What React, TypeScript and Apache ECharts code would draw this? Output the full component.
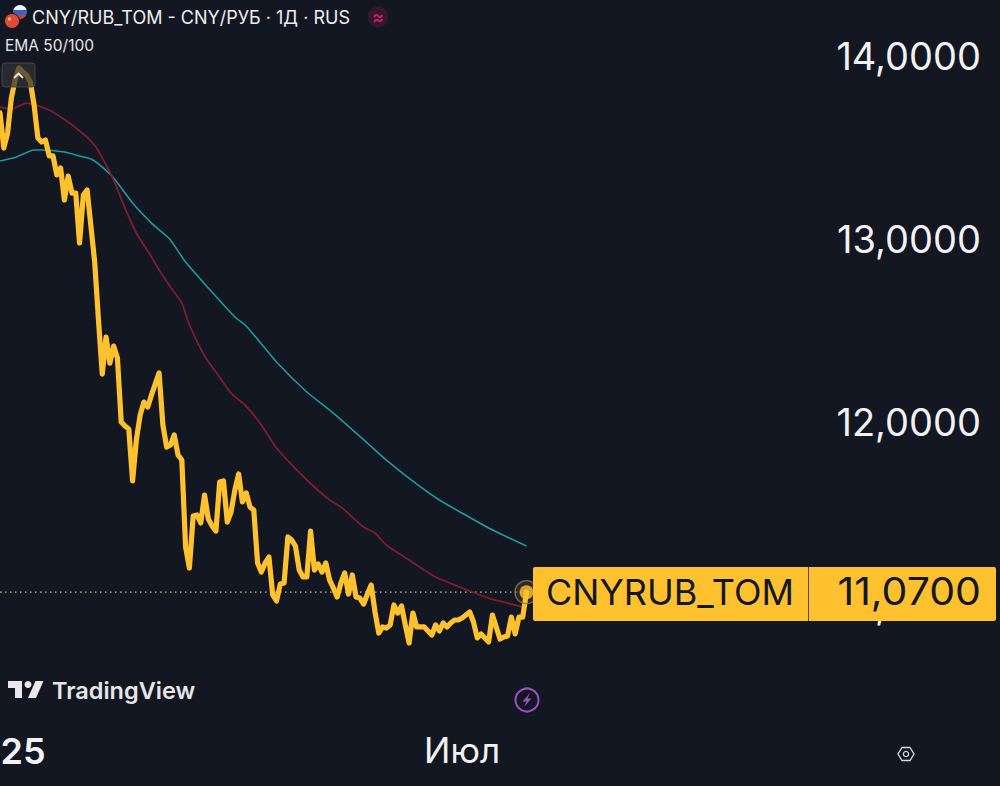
import React, { useEffect, useRef } from "react";
import * as echarts from "echarts";

const closePrices = [
  13.689, 13.497, 13.579, 13.77, 13.869, 13.934, 13.913, 13.896, 13.858, 13.732,
  13.552, 13.53, 13.541, 13.454, 13.454, 13.35, 13.388, 13.213, 13.344, 13.251,
  13.251, 12.978, 13.24, 13.268, 13.071, 12.874, 12.557, 12.262, 12.464, 12.322,
  12.415, 12.35, 12.0, 11.978, 11.962, 11.678, 11.902, 12.038, 12.109, 12.082,
  12.148, 12.208, 12.268, 11.984, 11.863, 11.874, 11.929, 11.82, 11.792, 11.317,
  11.202, 11.486, 11.492, 11.448, 11.601, 11.47, 11.432, 11.404, 11.672, 11.678,
  11.453, 11.508, 11.628, 11.716, 11.563, 11.612, 11.536, 11.519, 11.23, 11.18,
  11.23, 11.262, 11.055, 11.022, 11.115, 11.12, 11.372, 11.355, 11.322, 11.191,
  11.153, 11.153, 11.404, 11.191, 11.224, 11.18, 11.23, 11.137, 11.093, 11.044,
  11.12, 11.175, 11.06, 11.164, 11.044, 11.038, 11.005, 11.06, 11.109, 10.962,
  10.847, 10.88, 10.874, 10.891, 11.0, 10.956, 10.995, 10.891, 10.792, 10.956,
  10.88, 10.88, 10.88, 10.858, 10.836, 10.891, 10.858, 10.902, 10.88, 10.902,
  10.918, 10.918, 10.929, 10.945, 10.962, 10.907, 10.82, 10.842, 10.82, 10.798,
  10.945, 10.88, 10.814, 10.825, 10.831, 10.934, 10.842, 10.934, 10.934, 11.07,
];

const ema50Sessions = [0, 3, 7, 13, 18, 22, 24, 26, 30, 33, 36, 40, 42, 45, 48, 50, 54, 57, 61, 65, 69, 73, 81, 87, 90, 96, 99, 102, 108, 115, 122, 129, 138];
const ema50Values = [13.721, 13.71, 13.743, 13.705, 13.639, 13.574, 13.536, 13.481, 13.322, 13.169, 13.033, 12.902, 12.831, 12.738, 12.65, 12.53, 12.361, 12.273, 12.158, 12.087, 11.984, 11.858, 11.683, 11.574, 11.536, 11.426, 11.393, 11.328, 11.246, 11.153, 11.093, 11.038, 10.989];

const ema100Sessions = [0, 4, 9, 11, 17, 21, 24, 26, 30, 35, 40, 43, 45, 49, 55, 62, 65, 73, 81, 88, 97, 102, 111, 116, 121, 129, 139];
const ema100Values = [13.426, 13.445, 13.486, 13.486, 13.475, 13.454, 13.437, 13.41, 13.333, 13.197, 13.087, 13.033, 12.995, 12.874, 12.732, 12.574, 12.525, 12.328, 12.164, 12.049, 11.885, 11.792, 11.645, 11.574, 11.514, 11.421, 11.322];

const priceTicks = [11, 12, 13, 14];
const timeTicks = [0, 122];
const timeLabels: Record<number, string> = { 0: "2025", 122: "Июл" };
const lastPrice = 11.07;
const lastSession = closePrices.length - 1;

const FONT = "Inter, sans-serif";
const BG = "#131722";
const GOLD = "#FFC22E";

export default function App() {
  const ref = useRef<HTMLDivElement>(null);
  useEffect(() => {
    const chart = echarts.init(ref.current!, undefined, { renderer: "svg" });
    const russia = {
      type: "linear", x: 0, y: 0, x2: 0, y2: 1,
      colorStops: [
        { offset: 0, color: "#f2f2f2" }, { offset: 0.36, color: "#f2f2f2" },
        { offset: 0.36, color: "#3a62c4" }, { offset: 0.68, color: "#3a62c4" },
        { offset: 0.68, color: "#d83a34" }, { offset: 1, color: "#d83a34" },
      ],
    };
    chart.setOption({
      animation: false,
      backgroundColor: BG,
      grid: { left: 0, top: 1.1, width: 1000, height: 713.7, outerBoundsMode: "none", containLabel: false },
      xAxis: {
        type: "value", min: 0, max: 264, splitLine: { show: false },
        axisLine: { show: false }, axisTick: { show: false },
        axisLabel: {
          customValues: timeTicks, margin: 18, fontFamily: FONT, fontSize: 35, color: "#f2f2f2",
          formatter: (v: number) => (v === 0 ? `{b|${timeLabels[0]}}` : timeLabels[v] ?? ""),
          rich: { b: { fontFamily: FONT, fontSize: 36, fontWeight: 600, color: "#f2f2f2" } },
        },
      },
      yAxis: {
        type: "value", position: "right", min: 10.4, max: 14.3, splitLine: { show: false },
        axisLine: { show: false }, axisTick: { show: false },
        axisLabel: {
          customValues: priceTicks, inside: true, margin: 19, fontFamily: FONT, fontSize: 38, color: "#f2f2f2",
          formatter: (v: number) => v.toFixed(4).replace(".", ","),
        },
      },
      series: [
        {
          name: "Last", type: "line", symbol: "none", silent: true, z: 1,
          data: [[0, lastPrice], [lastSession, lastPrice]],
          lineStyle: { color: "#c8c09a", width: 1.3, type: [1.5, 3.5] },
        },
        {
          name: "EMA 100", type: "line", symbol: "none", smooth: 0.2, z: 2,
          data: ema100Sessions.map((s, i) => [s, ema100Values[i]]),
          lineStyle: { color: "#1f9a9c", width: 1.6 },
        },
        {
          name: "EMA 50", type: "line", symbol: "none", smooth: 0.2, z: 2,
          data: ema50Sessions.map((s, i) => [s, ema50Values[i]]),
          lineStyle: { color: "#7f1d2d", width: 1.8 },
        },
        {
          name: "CNY/RUB_TOM", type: "line", symbol: "none", z: 3,
          data: closePrices.map((v, i) => [i, v]),
          lineStyle: { color: GOLD, width: 5.2, join: "round", cap: "round" },
        },
        {
          name: "Halo", type: "scatter", z: 4, symbolSize: 23, silent: true,
          data: [[lastSession, lastPrice]],
          itemStyle: { color: "rgba(255,194,46,0.14)", borderColor: "#85774c", borderWidth: 1.5 },
        },
        {
          name: "Dot", type: "scatter", z: 5, symbolSize: 14, silent: true,
          data: [[lastSession, lastPrice]],
          itemStyle: { color: GOLD },
        },
      ],
      graphic: [
        { type: "circle", z: 50, shape: { cx: 20, cy: 12, r: 7 }, style: { fill: russia } },
        { type: "circle", z: 51, shape: { cx: 12, cy: 21, r: 7.5 }, style: { fill: "#e0483a", stroke: BG, lineWidth: 1 } },
        { type: "circle", z: 52, shape: { cx: 9.5, cy: 19, r: 1.6 }, style: { fill: "#f4c63c" } },
        { type: "text", z: 50, x: 32, y: 17, style: { text: "CNY/RUB_TOM - CNY/РУБ · 1Д · RUS", fontFamily: FONT, fontSize: 18, fill: "#eeeeee", verticalAlign: "middle" } },
        { type: "text", z: 50, x: 5, y: 45.5, style: { text: "EMA 50/100", fontFamily: FONT, fontSize: 15.5, fill: "#e6e6e6", verticalAlign: "middle" } },
        { type: "circle", z: 50, shape: { cx: 378, cy: 17, r: 10.5 }, style: { fill: "#35162f" } },
        { type: "text", z: 51, x: 378, y: 16.5, style: { text: "≈", fontFamily: FONT, fontSize: 17, fontWeight: 700, fill: "#c2255c", align: "center", verticalAlign: "middle" } },
        { type: "rect", z: 50, shape: { x: 2, y: 63, width: 33, height: 24, r: 3 }, style: { fill: "rgba(50,50,50,0.72)", stroke: "#43454c", lineWidth: 1 } },
        { type: "polyline", z: 51, shape: { points: [[14, 78], [18.5, 73.5], [23, 78]] }, style: { stroke: "#f2f2f2", lineWidth: 1.8, fill: "none" } },

        { type: "polygon", z: 50, shape: { points: [[8, 681], [22, 681], [22, 698], [15, 698], [15, 688], [8, 688]] }, style: { fill: "#e8e8e8" } },
        { type: "polygon", z: 50, shape: { points: [[28, 698], [36, 698], [43.5, 681], [35.5, 681]] }, style: { fill: "#e8e8e8" } },
        { type: "circle", z: 50, shape: { cx: 28, cy: 684.5, r: 3.5 }, style: { fill: "#e8e8e8" } },
        { type: "text", z: 50, x: 52, y: 690, style: { text: "TradingView", fontFamily: FONT, fontSize: 23.5, fontWeight: 600, fill: "#e6e6e6", verticalAlign: "middle" } },

        { type: "circle", z: 50, shape: { cx: 527, cy: 700, r: 11.5 }, style: { fill: "none", stroke: "#9c4fc4", lineWidth: 2 } },
        { type: "polygon", z: 50, shape: { points: [[530, 693], [522.5, 701.5], [526.5, 701.5], [524, 707], [531.5, 698.5], [527.5, 698.5]] }, style: { fill: "#9c4fc4" } },

        { type: "polygon", z: 50, shape: { points: [[898, 754], [902, 747.5], [910, 747.5], [914, 754], [910, 760.5], [902, 760.5]] }, style: { fill: "none", stroke: "#d7dbe5", lineWidth: 1.3 } },
        { type: "circle", z: 50, shape: { cx: 906, cy: 754, r: 2.6 }, style: { fill: "none", stroke: "#d7dbe5", lineWidth: 1.3 } },

        { type: "rect", z: 100, shape: { x: 533, y: 567, width: 463, height: 54, r: 2 }, style: { fill: GOLD } },
        { type: "line", z: 101, shape: { x1: 808.5, y1: 567, x2: 808.5, y2: 621 }, style: { stroke: "#5f4a14", lineWidth: 1 } },
        { type: "text", z: 102, x: 546, y: 592, style: { text: "CNYRUB_TOM", fontFamily: FONT, fontSize: 36, fill: "#131722", verticalAlign: "middle" } },
        { type: "text", z: 102, x: 981, y: 592, scaleX: 1.08, style: { text: "11,0700", fontFamily: FONT, fontSize: 38, fill: "#131722", align: "right", verticalAlign: "middle" } },
      ],
    });
    return () => chart.dispose();
  }, []);
  return <div ref={ref} style={{ position: "fixed", left: 0, top: 0, width: 1000, height: 786 }} />;
}
